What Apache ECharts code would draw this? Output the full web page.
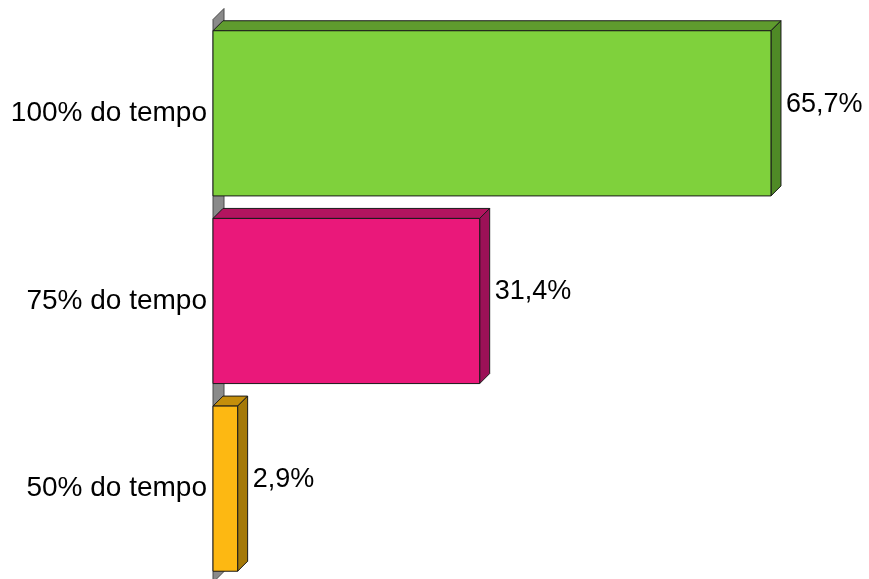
<!DOCTYPE html>
<html>
<head>
<meta charset="utf-8">
<script src="https://cdn.jsdelivr.net/npm/echarts@6/dist/echarts.min.js"></script>
<style>
  html, body { margin: 0; padding: 0; background: #ffffff; }
  #chart { width: 869px; height: 579px; }
</style>
</head>
<body>
<div id="chart"></div>
<script>
// Share of respondents by time category
const categories = ['100% do tempo', '75% do tempo', '50% do tempo'];
const values = [65.7, 31.4, 2.9];

// front / top / side shades for each bar
const frontColors = ['#7fd13c', '#ea187a', '#fdb812'];
const topColors = ['#5f9b2e', '#b2145f', '#c48e0b'];
const sideColors = ['#4f8a26', '#9c1157', '#a57908'];

const DEPTH = 10;

const chart = echarts.init(document.getElementById('chart'), null, { renderer: 'canvas' });

function fmt(v) {
  return v.toFixed(1).replace('.', ',') + '%';
}

function renderBar(params, api) {
  const idx = params.dataIndex;
  const v = api.value(0);
  const cat = api.value(1);
  const p0 = api.coord([0, cat]);
  const p1 = api.coord([v, cat]);
  const h = api.size([0, 1])[1] * 0.88;
  const x0 = p0[0], x1 = p1[0];
  const yT = p0[1] - h / 2, yB = p0[1] + h / 2;
  const d = DEPTH;
  const line = { stroke: '#1a1a1a', lineWidth: 1 };
  return {
    type: 'group',
    children: [
      {
        type: 'polygon',
        shape: { points: [[x0, yT], [x0 + d, yT - d], [x1 + d, yT - d], [x1, yT]] },
        style: Object.assign({ fill: topColors[idx] }, line)
      },
      {
        type: 'polygon',
        shape: { points: [[x1, yT], [x1 + d, yT - d], [x1 + d, yB - d], [x1, yB]] },
        style: Object.assign({ fill: sideColors[idx] }, line)
      },
      {
        type: 'rect',
        shape: { x: x0, y: yT, width: x1 - x0, height: h },
        style: Object.assign({ fill: frontColors[idx] }, line)
      },
      {
        type: 'text',
        x: x1 + d + 5,
        y: p0[1] - 9,
        style: {
          text: fmt(v),
          fill: '#000000',
          font: '27px "Liberation Sans", Arial, sans-serif',
          align: 'left',
          verticalAlign: 'middle'
        }
      }
    ]
  };
}

function renderWall(params, api) {
  const cs = params.coordSys;
  const x = cs.x, top = cs.y, bottom = cs.y + cs.height;
  const d = 11;
  return {
    type: 'polygon',
    shape: { points: [[x, top], [x + d, top - d], [x + d, bottom - d], [x, bottom]] },
    style: { fill: '#8a8a8a', stroke: '#4a4a4a', lineWidth: 1 }
  };
}

chart.setOption({
  animation: false,
  backgroundColor: '#ffffff',
  grid: { left: 213, top: 19.5, height: 563, right: 61.5, outerBoundsMode: 'none', containLabel: false },
  xAxis: {
    type: 'value',
    min: 0,
    max: 70,
    show: false
  },
  yAxis: {
    type: 'category',
    inverse: true,
    data: categories,
    axisLine: { show: false },
    axisTick: { show: false },
    splitLine: { show: false },
    axisLabel: {
      margin: 6,
      color: '#000000',
      fontSize: 28,
      fontFamily: '"Liberation Sans", Arial, sans-serif',
      padding: [6, 0, 0, 0]
    }
  },
  series: [
    {
      type: 'custom',
      name: 'wall',
      renderItem: renderWall,
      data: [[0, 0]],
      encode: { x: 0, y: 1 },
      silent: true,
      z: 1
    },
    {
      type: 'custom',
      name: 'bars',
      renderItem: renderBar,
      data: values.map((v, i) => [v, i]),
      encode: { x: 0, y: 1 },
      z: 2
    }
  ]
});
</script>
</body>
</html>
